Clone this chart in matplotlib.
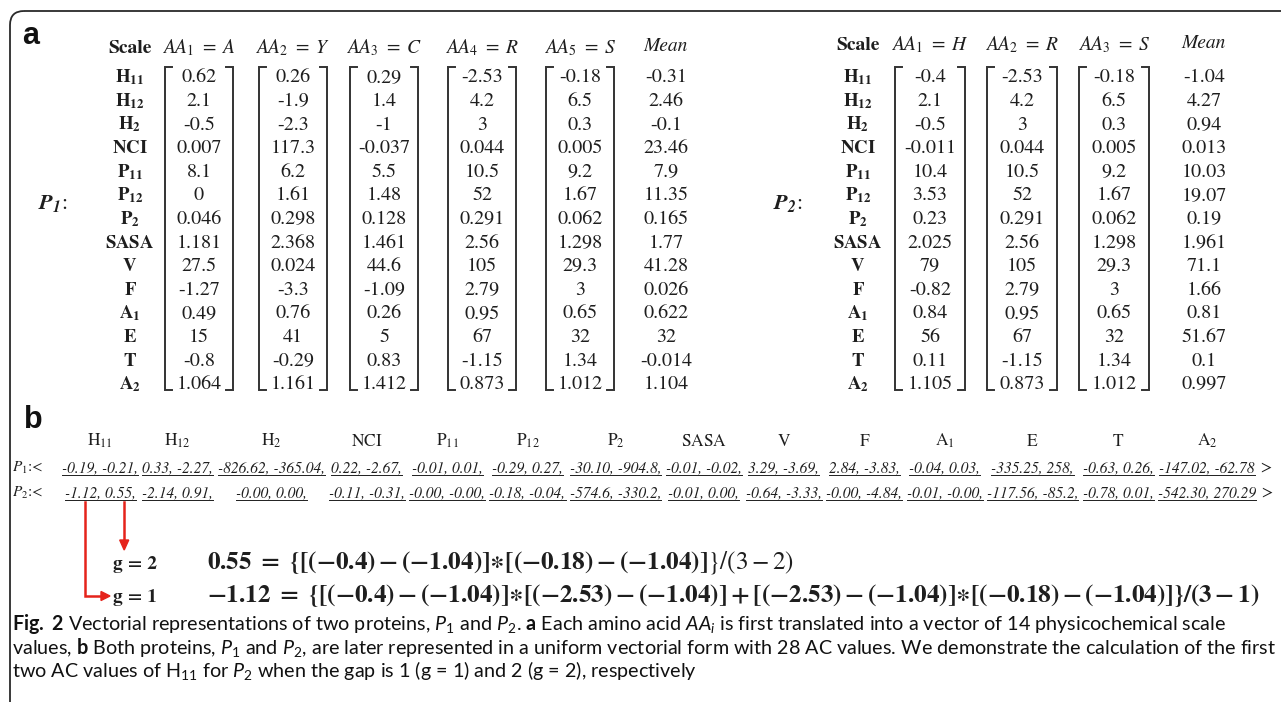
import re
import matplotlib
matplotlib.use("Agg")
import matplotlib.pyplot as plt
from matplotlib.patches import FancyBboxPatch, Polygon

plt.rcParams['mathtext.fontset'] = 'custom'
plt.rcParams['mathtext.rm'] = 'Lato'
plt.rcParams['mathtext.it'] = 'Lato:italic'
plt.rcParams['mathtext.bf'] = 'Lato:bold'

# ---------------- data ----------------
scales = ["H11", "H12", "H2", "NCI", "P11", "P12", "P2", "SASA", "V", "F", "A1", "E", "T", "A2"]
p1_residues = ["A", "Y", "C", "R", "S"]
p2_residues = ["H", "R", "S"]
aa_A = ["0.62", "2.1", "-0.5", "0.007", "8.1", "0", "0.046", "1.181", "27.5", "-1.27", "0.49", "15", "-0.8", "1.064"]
aa_Y = ["0.26", "-1.9", "-2.3", "117.3", "6.2", "1.61", "0.298", "2.368", "0.024", "-3.3", "0.76", "41", "-0.29", "1.161"]
aa_C = ["0.29", "1.4", "-1", "-0.037", "5.5", "1.48", "0.128", "1.461", "44.6", "-1.09", "0.26", "5", "0.83", "1.412"]
aa_R = ["-2.53", "4.2", "3", "0.044", "10.5", "52", "0.291", "2.56", "105", "2.79", "0.95", "67", "-1.15", "0.873"]
aa_S = ["-0.18", "6.5", "0.3", "0.005", "9.2", "1.67", "0.062", "1.298", "29.3", "3", "0.65", "32", "1.34", "1.012"]
aa_H = ["-0.4", "2.1", "-0.5", "-0.011", "10.4", "3.53", "0.23", "2.025", "79", "-0.82", "0.84", "56", "0.11", "1.105"]
p1_mean = ["-0.31", "2.46", "-0.1", "23.46", "7.9", "11.35", "0.165", "1.77", "41.28", "0.026", "0.622", "32", "-0.014", "1.104"]
p2_mean = ["-1.04", "4.27", "0.94", "0.013", "10.03", "19.07", "0.19", "1.961", "71.1", "1.66", "0.81", "51.67", "0.1", "0.997"]
residue_values = {"A": aa_A, "Y": aa_Y, "C": aa_C, "R": aa_R, "S": aa_S, "H": aa_H}

p1_ac_g1 = ["-0.19", "0.33", "-826.62", "0.22", "-0.01", "-0.29", "-30.10", "-0.01", "3.29", "2.84", "-0.04", "-335.25", "-0.63", "-147.02"]
p1_ac_g2 = ["-0.21", "-2.27", "-365.04", "-2.67", "0.01", "0.27", "-904.8", "-0.02", "-3.69", "-3.83", "0.03", "258", "0.26", "-62.78"]
p2_ac_g1 = ["-1.12", "-2.14", "-0.00", "-0.11", "-0.00", "-0.18", "-574.6", "-0.01", "-0.64", "-0.00", "-0.01", "-117.56", "-0.78", "-542.30"]
p2_ac_g2 = ["0.55", "0.91", "0.00", "-0.31", "-0.00", "-0.04", "-330.2", "0.00", "-3.33", "-4.84", "-0.00", "-85.2", "0.01", "270.29"]

caption_lines = [
    r"$\mathbf{Fig.\ 2}$ Vectorial representations of two proteins, $\mathit{P_1}$ and $\mathit{P_2}$. $\mathbf{a}$ Each amino acid $\mathit{AA_i}$ is first translated into a vector of 14 physicochemical scale",
    r"values, $\mathbf{b}$ Both proteins, $\mathit{P_1}$ and $\mathit{P_2}$, are later represented in a uniform vectorial form with 28 AC values. We demonstrate the calculation of the first",
    r"two AC values of H$_{11}$ for $\mathit{P_2}$ when the gap is 1 (g = 1) and 2 (g = 2), respectively",
]

# ---------------- helpers ----------------
INK = "#1e1e1e"
RED = "#e5231b"
SER = dict(family="STIXGeneral", math_fontfamily="stix")

fig = plt.figure(figsize=(12.81, 7.02), dpi=100)
ax = fig.add_axes([0, 0, 1, 1])
ax.set_xlim(0, 1281)
ax.set_ylim(702, 0)
ax.axis("off")
renderer = fig.canvas.get_renderer()


def txt(x, y, s, **kw):
    kw.setdefault("color", INK)
    kw.setdefault("va", "baseline")
    return ax.text(x, y, s, **kw)


def extent(t):
    bb = t.get_window_extent(renderer)
    inv = ax.transData.inverted()
    (x0, y0), (x1, y1) = inv.transform([[bb.x0, bb.y0], [bb.x1, bb.y1]])
    return min(x0, x1), max(x0, x1), min(y0, y1), max(y0, y1)


def width(t):
    x0, x1, _, _ = extent(t)
    return x1 - x0


def split_name(n):
    m = re.match(r"([A-Z]+)(\d*)$", n)
    return m.group(1), m.group(2)


def fmt_label(n, bold):
    base, sub = split_name(n)
    cmd = r"\mathbf" if bold else r"\mathrm"
    if sub:
        return "$" + cmd + "{" + base + "}_{" + cmd + "{" + sub + "}}$"
    return "$" + cmd + "{" + base + "}$"


# ---------------- frame ----------------
frame = FancyBboxPatch((10, 11), 1500, 900, boxstyle="round,pad=0,rounding_size=14",
                       fill=False, ec="#2a2a2a", lw=1.3)
ax.add_patch(frame)

txt(22, 44, "a", family="Liberation Sans", weight="bold", fontsize=22, color="#111")
txt(24, 428, "b", family="Liberation Sans", weight="bold", fontsize=22, color="#111")

# ---------------- panel a ----------------
ROW0, DROW = 82.5, 23.6
B_TOP, B_BOT, TICK = 67, 390, 7
VAL_FS = 14.5
HDR_FS = 14


def bracket(cx, half):
    L, R = cx - half, cx + half
    ax.plot([L + TICK, L, L, L + TICK], [B_TOP, B_TOP, B_BOT, B_BOT], color="#333", lw=1.4,
            solid_joinstyle="miter")
    ax.plot([R - TICK, R, R, R - TICK], [B_TOP, B_TOP, B_BOT, B_BOT], color="#333", lw=1.4,
            solid_joinstyle="miter")


def draw_table(residues, means, scale_x, col_x, mean_x, header_y, plabel, plabel_x, half):
    txt(scale_x, header_y, "Scale", weight="bold", fontsize=HDR_FS, ha="center", **SER)
    for i, name in enumerate(scales):
        txt(scale_x, ROW0 + DROW * i, fmt_label(name, True), fontsize=13.5, ha="center", **SER)
    for k, (res, cx) in enumerate(zip(residues, col_x)):
        txt(cx, header_y, "$AA_{" + str(k + 1) + r"}\ =\ " + res + "$", fontsize=HDR_FS,
            ha="center", **SER)
        for i, v in enumerate(residue_values[res]):
            txt(cx, ROW0 + DROW * i, v, fontsize=VAL_FS, ha="center", **SER)
        bracket(cx, half)
    txt(mean_x, header_y - 2, "Mean", style="italic", fontsize=HDR_FS, ha="center", **SER)
    for i, v in enumerate(means):
        txt(mean_x, ROW0 + DROW * i, v, fontsize=VAL_FS, ha="center", **SER)
    txt(plabel_x, 209, plabel, fontsize=16, ha="left", **SER)


draw_table(p1_residues, p1_mean, 130, [199, 293, 384, 482, 580], 666, 53,
           r"$\mathbfit{P_1}$:", 38, 34)
draw_table(p2_residues, p2_mean, 858, [930, 1022, 1114], 1204, 50,
           r"$\mathbfit{P_2}$:", 773, 35)

# ---------------- panel b ----------------
HDR_Y, P1_Y, P2_Y = 446, 472, 497
ITEM_FS = 11.5
n = len(scales)


def item_text(a, b, last):
    return a + ", " + b + ("" if last else ",")


p1_items = [txt(0, P1_Y, item_text(a, b, j == n - 1), style="italic", fontsize=ITEM_FS, ha="left", **SER)
            for j, (a, b) in enumerate(zip(p1_ac_g1, p1_ac_g2))]
p2_items = [txt(0, P2_Y, item_text(a, b, j == n - 1), style="italic", fontsize=ITEM_FS, ha="left", **SER)
            for j, (a, b) in enumerate(zip(p2_ac_g1, p2_ac_g2))]

X_START, X_END = 62, 1256
ws = [max(width(a), width(b)) for a, b in zip(p1_items, p2_items)]
if sum(ws) + 4 * (n - 1) > X_END - X_START:
    f = (X_END - X_START - 4 * (n - 1)) / sum(ws)
    for t in p1_items + p2_items:
        t.set_fontsize(t.get_fontsize() * f)
    ws = [max(width(a), width(b)) for a, b in zip(p1_items, p2_items)]
gap = (X_END - X_START - sum(ws)) / (n - 1)

cursor = X_START
for j, name in enumerate(scales):
    cx = cursor + ws[j] / 2
    for t in (p1_items[j], p2_items[j]):
        t.set_position((cx, t.get_position()[1]))
        t.set_ha("center")
    txt(cx, HDR_Y, fmt_label(name, False), fontsize=12.5, ha="center", **SER)
    cursor += ws[j] + gap

for t in p1_items + p2_items:
    x0, x1, _, _ = extent(t)
    yb = t.get_position()[1] + 2.5
    ax.plot([x0, x1], [yb, yb], color=INK, lw=0.7)

for y, lab, items in ((P1_Y, r"$P_1$:<", p1_items), (P2_Y, r"$P_2$:<", p2_items)):
    txt(12, y, lab, fontsize=11, ha="left", **SER)
    x0, x1, _, _ = extent(items[-1])
    txt(x1 + 5, y, ">", fontsize=12, ha="left", **SER)

# ---------------- equations ----------------
G_X, EQ_X = 113, 207
G2_Y, G1_Y = 569, 602
txt(G_X, G2_Y, "g = 2", weight="bold", fontsize=14, ha="left", **SER)
txt(G_X, G1_Y, "g = 1", weight="bold", fontsize=14, ha="left", **SER)

h, r, s, m = aa_H[0], aa_R[0], aa_S[0], p2_mean[0]
AST = r"{\ast}"
eq1 = (r"$\mathbf{" + p2_ac_g2[0] + r"\ =\ \{[(" + h + ") - (" + m + ")]" + AST + "[(" + s + ") - (" + m + r")]}"
       r"\}/(3 - 2)$")
eq2 = (r"$\mathbf{" + p2_ac_g1[0] + r"\ =\ \{[(" + h + ") - (" + m + ")]" + AST + "[(" + r + ") - (" + m + ")]"
       r" + [(" + r + ") - (" + m + ")]" + AST + "[(" + s + ") - (" + m + r")]\}/(3 - 1)}$")
t_eq2 = txt(EQ_X, G1_Y, eq2, fontsize=16, ha="left", **SER)
t_eq2.set_fontsize(16 * 1055 / width(t_eq2))
t_eq1 = txt(EQ_X, G2_Y, eq1, fontsize=t_eq2.get_fontsize(), ha="left", **SER)

# red arrows from the first P2 item
x0, x1, _, _ = extent(p2_items[0])
w0 = x1 - x0
x_long = x0 + 0.29 * w0
x_short = x0 + 0.84 * w0
y_top = 502
ax.plot([x_long, x_long, G_X - 10], [y_top, G1_Y - 6, G1_Y - 6], color=RED, lw=1.8,
        solid_joinstyle="miter")
ax.add_patch(Polygon([[G_X - 3, G1_Y - 6], [G_X - 12, G1_Y - 10.5], [G_X - 12, G1_Y - 1.5]],
                     closed=True, color=RED))
ax.plot([x_short, x_short], [y_top, 541], color=RED, lw=1.8)
ax.add_patch(Polygon([[x_short, 550], [x_short - 4.5, 540], [x_short + 4.5, 540]],
                     closed=True, color=RED))

# ---------------- caption ----------------
CAP_Y = [630, 654, 677]
cap = [txt(12, y, line, family="Lato", fontsize=12, ha="left", color="#111")
       for y, line in zip(CAP_Y, caption_lines)]
fs = 12 * 1261 / width(cap[1])
for t in cap:
    t.set_fontsize(fs)

fig.savefig("out.png", dpi=100)
